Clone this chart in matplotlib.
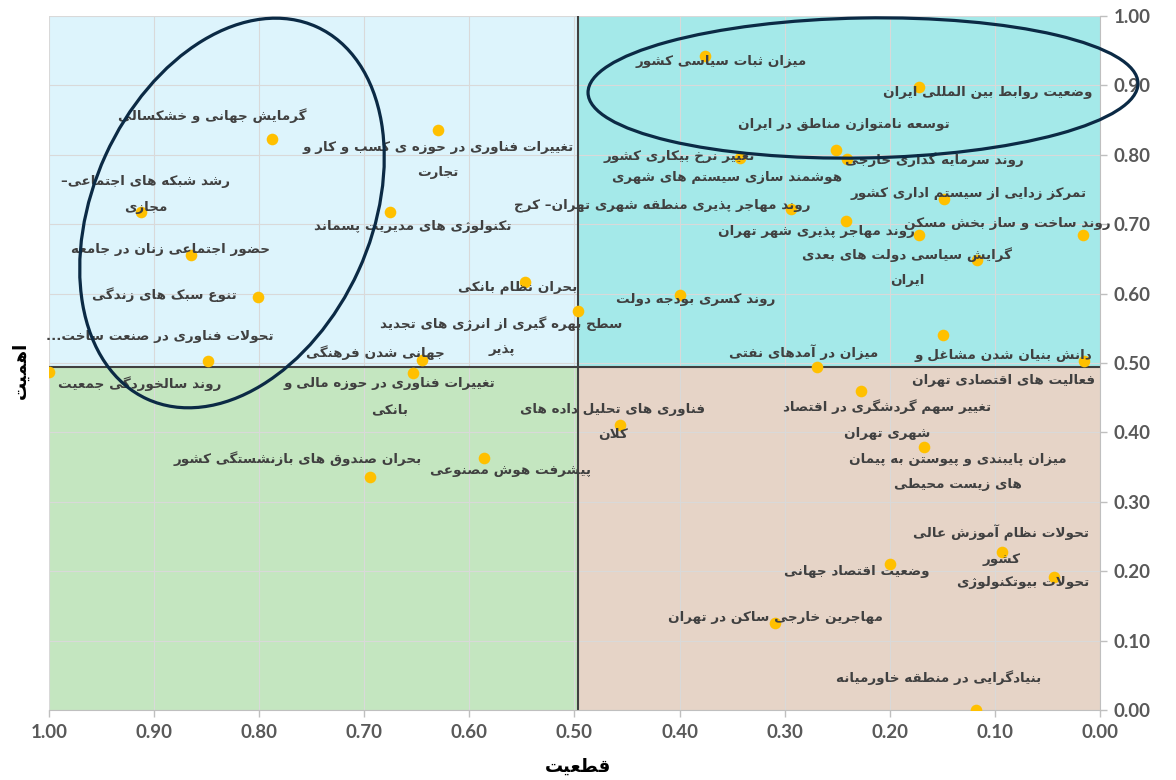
import matplotlib
matplotlib.use('Agg')
import matplotlib.pyplot as plt
from matplotlib.patches import Ellipse, Rectangle
from matplotlib.ticker import MultipleLocator, FormatStrFormatter

plt.rcParams['font.family'] = ['DejaVu Sans']

# drivers: certainty (قطعیت) vs importance (اهمیت)
labels = [
    'گرمایش جهانی و خشکسالی',
    'تغییرات فناوری در حوزه ی کسب و کار و\nتجارت',
    'رشد شبکه های اجتماعی–\nمجازی',
    'تکنولوژی های مدیریت پسماند',
    'حضور اجتماعی زنان در جامعه',
    'تنوع سبک های زندگی',
    'تحولات فناوری در صنعت ساخت...',
    'روند سالخوردگی جمعیت',
    'بحران نظام بانکی',
    'سطح بهره گیری از انرژی های تجدید\nپذیر',
    'جهانی شدن فرهنگی',
    'تغییرات فناوری در حوزه مالی و\nبانکی',
    'بحران صندوق های بازنشستگی کشور',
    'پیشرفت هوش مصنوعی',
    'فناوری های تحلیل داده های\nکلان',
    'میزان در آمدهای نفتی',
    'تغییر سهم گردشگری در اقتصاد\nشهری تهران',
    'میزان پایبندی و پیوستن به پیمان\nهای زیست محیطی',
    'تحولات نظام آموزش عالی\nکشور',
    'تحولات بیوتکنولوژی',
    'وضعیت اقتصاد جهانی',
    'مهاجرین خارجی ساکن در تهران',
    'بنیادگرایی در منطقه خاورمیانه',
    'میزان ثبات سیاسی کشور',
    'وضعیت روابط بین المللی ایران',
    'توسعه نامتوازن مناطق در ایران',
    'تغییر نرخ بیکاری کشور',
    'روند سرمایه گذاری خارجی',
    'هوشمند سازی سیستم های شهری',
    'تمرکز زدایی از سیستم اداری کشور',
    'روند مهاجر پذیری منطقه شهری تهران– کرج',
    'روند ساخت و ساز بخش مسکن',
    'روند مهاجر پذیری شهر تهران',
    'گرایش سیاسی دولت های بعدی\nایران',
    'روند کسری بودجه دولت',
    'دانش بنیان شدن مشاغل و\nفعالیت های اقتصادی تهران',
    '',
]
certainty = [0.788, 0.630, 0.912, 0.676, 0.865, 0.801, 0.849, 1.000, 0.547, 0.497,
             0.645, 0.654, 0.695, 0.586, 0.457, 0.269, 0.227, 0.167, 0.093, 0.044,
             0.200, 0.309, 0.118, 0.376, 0.172, 0.251, 0.343, 0.241, 0.242, 0.148,
             0.294, 0.016, 0.172, 0.117, 0.400, 0.015, 0.149]
importance = [0.823, 0.836, 0.718, 0.718, 0.656, 0.595, 0.503, 0.487, 0.616, 0.575,
              0.504, 0.485, 0.336, 0.363, 0.411, 0.494, 0.460, 0.379, 0.227, 0.191,
              0.210, 0.126, 0.000, 0.943, 0.897, 0.807, 0.795, 0.794, 0.705, 0.736,
              0.722, 0.685, 0.685, 0.648, 0.598, 0.503, 0.541]

# label placement, pixels from the point (x right, y up)
label_offsets = [(-60, 23), (0, -30), (4, 17), (23, -15), (-20, 5), (-94, 2), (-48, 24),
                 (91, -12), (-7, -5), (-76, -25), (-47, 8), (-23, -23), (-72, 18),
                 (26, -12), (-7, 3), (-14, 15), (26, -29), (33, -25), (-1, 7), (-31, -5),
                 (-33, -7), (0, 5), (-37, 32), (16, -6), (69, -5), (8, 25), (-60, 2),
                 (88, -1), (-119, 43), (24, 6), (-129, 4), (-76, 11), (-103, 3), (-70, -7),
                 (16, -5), (-81, -7), (0, 0)]

# --- simple Persian shaping: contextual forms + right-to-left order ---
DUAL = {'ب': 0xFE8F, 'ت': 0xFE95, 'ث': 0xFE99, 'ج': 0xFE9D, 'ح': 0xFEA1, 'خ': 0xFEA5,
        'س': 0xFEB1, 'ش': 0xFEB5, 'ص': 0xFEB9, 'ض': 0xFEBD, 'ط': 0xFEC1, 'ظ': 0xFEC5,
        'ع': 0xFEC9, 'غ': 0xFECD, 'ف': 0xFED1, 'ق': 0xFED5, 'ل': 0xFEDD, 'م': 0xFEE1,
        'ن': 0xFEE5, 'ه': 0xFEE9, 'ی': 0xFBFC, 'ي': 0xFEF1, 'ئ': 0xFE89, 'پ': 0xFB56,
        'چ': 0xFB7A, 'ک': 0xFB8E, 'گ': 0xFB92}
RIGHT = {'ا': 0xFE8D, 'آ': 0xFE81, 'د': 0xFEA9, 'ذ': 0xFEAB, 'ر': 0xFEAD, 'ز': 0xFEAF,
         'ژ': 0xFB8A, 'و': 0xFEED}
LAM_ALEF = {'ا': (0xFEFB, 0xFEFC), 'آ': (0xFEF5, 0xFEF6)}


def shape_line(line):
    out = []
    i, n = 0, len(line)
    while i < n:
        ch = line[i]
        joins_prev = i > 0 and line[i - 1] in DUAL
        if ch == 'ل' and i + 1 < n and line[i + 1] in LAM_ALEF:
            iso, fin = LAM_ALEF[line[i + 1]]
            out.append(chr(fin if joins_prev else iso))
            i += 2
            continue
        nxt = line[i + 1] if i + 1 < n else ''
        if ch in DUAL:
            joins_next = nxt in DUAL or nxt in RIGHT
            out.append(chr(DUAL[ch] + [[0, 2], [1, 3]][joins_prev][joins_next]))
        elif ch in RIGHT:
            out.append(chr(RIGHT[ch] + (1 if joins_prev else 0)))
        elif ch != '\u200c':
            out.append(ch)
        i += 1
    return ''.join(reversed(out))


def fa(s):
    return '\n'.join(shape_line(l) for l in s.split('\n'))


fig = plt.figure(figsize=(11.76, 7.8), dpi=100)
ax = fig.add_axes([49 / 1176, 70 / 780, 1051 / 1176, 694 / 780])

ax.set_xlim(1, 0)
ax.set_ylim(0, 1)

# quadrant backgrounds
xm, ym = 0.497, 0.494
ax.add_patch(Rectangle((xm, ym), 1 - xm, 1 - ym, color='#ddf4fc', zorder=0, lw=0))
ax.add_patch(Rectangle((0, ym), xm, 1 - ym, color='#a4e9e9', zorder=0, lw=0))
ax.add_patch(Rectangle((xm, 0), 1 - xm, ym, color='#c4e6c0', zorder=0, lw=0))
ax.add_patch(Rectangle((0, 0), xm, ym, color='#e6d4c7', zorder=0, lw=0))

ax.xaxis.set_major_locator(MultipleLocator(0.1))
ax.yaxis.set_major_locator(MultipleLocator(0.1))
ax.xaxis.set_major_formatter(FormatStrFormatter('%.2f'))
ax.yaxis.set_major_formatter(FormatStrFormatter('%.2f'))
ax.grid(True, color='#d9d9d9', lw=0.8, zorder=0.5)
ax.yaxis.tick_right()
ax.tick_params(length=5, width=1, color='#bfbfbf', labelcolor='#595959', labelsize=13.5, pad=5)
for lab in ax.get_xticklabels() + ax.get_yticklabels():
    lab.set_family('Lato')
    lab.set_fontweight('bold')
for side in ['top', 'left']:
    ax.spines[side].set_visible(False)
for side in ['bottom', 'right']:
    ax.spines[side].set_color('#bfbfbf')

ax.axvline(xm, color='#404040', lw=1.5, zorder=2)
ax.axhline(ym, color='#404040', lw=1.5, zorder=2)

ax.scatter(certainty, importance, s=70, color='#ffc000', zorder=3, linewidths=0)

for txt, x, y, off in zip(labels, certainty, importance, label_offsets):
    if not txt:
        continue
    ax.annotate(fa(txt), (x, y), xytext=off, textcoords='offset pixels',
                ha='center', va='center', multialignment='center', linespacing=2.25,
                fontsize=9.7, fontweight='bold', color='#404040', zorder=4)

# highlighted clusters
ax.add_patch(Ellipse((2.32, 5.67), 4.09, 2.78, angle=65.5, transform=fig.dpi_scale_trans,
                     fill=False, ec='#0b2a45', lw=2.3, zorder=5, clip_on=False))
ax.add_patch(Ellipse((8.63, 6.92), 5.50, 1.40, angle=1, transform=fig.dpi_scale_trans,
                     fill=False, ec='#0b2a45', lw=2.3, zorder=5, clip_on=False))

fig.text(578 / 1176, 1 - 767 / 780, fa('قطعیت'), ha='center', va='center',
         fontsize=13, fontweight='bold', color='black')
fig.text(21 / 1176, 1 - 370 / 780, fa('اهمیت'), ha='center', va='center', rotation=90,
         fontsize=13, fontweight='bold', color='black')

fig.savefig('out.png', dpi=100)
